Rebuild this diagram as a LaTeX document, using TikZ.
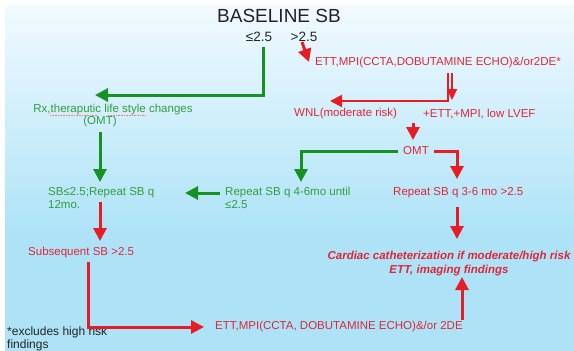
\documentclass[tikz,border=0pt]{standalone}
\usepackage{fontspec}
\setmainfont{Liberation Sans}
\usetikzlibrary{arrows.meta}
\definecolor{sbred}{RGB}{232, 28, 36}
\definecolor{sbredtext}{RGB}{224, 38, 56}
\definecolor{sbgreen}{RGB}{22, 146, 34}
\definecolor{sbgreentext}{RGB}{52, 158, 64}
\definecolor{sbsky}{RGB}{174, 227, 247}
\definecolor{sbtop}{RGB}{242, 250, 255}
\definecolor{sbink}{RGB}{35, 35, 35}

\begin{document}
\begin{tikzpicture}[x=1pt, y=-1pt,
  txt/.style={inner sep=0pt, font=\fontsize{11.5}{13}\selectfont, align=left},
  redtxt/.style={txt, text=sbredtext},
  greentxt/.style={txt, text=sbgreentext},
  redarr/.style={-{Triangle[length=13pt, width=13pt]}, sbred, line width=3pt},
  greenarr/.style={-{Triangle[length=13pt, width=13pt]}, sbgreen, line width=3pt},
  squiggle/.style={red!55, densely dotted, line width=0.6pt}]

  \useasboundingbox (0, 0) rectangle (574, 351);
  \fill[white] (0, 0) rectangle (574, 351);
  \shade[top color=sbtop, bottom color=sbsky] (5, 5) rectangle (574, 230);
  \fill[sbsky] (5, 229.5) rectangle (574, 351);

  % top of the chart
  \node[text=sbink, inner sep=0pt, font=\fontsize{19}{21}\selectfont] (baseline) at (279, 16) {BASELINE SB};
  \node[text=sbink, inner sep=0pt, font=\fontsize{13.5}{15}\selectfont] (low) at (259, 37) {≤2.5};
  \node[text=sbink, inner sep=0pt, font=\fontsize{13.5}{15}\selectfont] (high) at (304, 37) {>2.5};

  % red side
  \node[redtxt, anchor=west] (ettone) at (315, 63) {ETT,MPI(CCTA,DOBUTAMINE ECHO)\&/or2DE*};
  \node[redtxt, anchor=west] (wnl) at (294, 114) {WNL(moderate risk)};
  \node[redtxt, anchor=west] (plus) at (423, 114) {+ETT,+MPI, low LVEF};
  \node[redtxt, inner xsep=5pt] (omt) at (416, 151) {OMT};
  \node[redtxt, anchor=west] (repred) at (393, 193) {Repeat SB q 3-6 mo >2.5};
  \node[txt, text=sbredtext, align=center, font=\fontsize{11.5}{14}\selectfont\bfseries\itshape] (cath) at (449, 264)
    {Cardiac catheterization if moderate/high risk\\ETT, imaging findings};
  \node[redtxt, anchor=west] (etttwo) at (215, 327) {ETT,MPI(CCTA, DOBUTAMINE ECHO)\&/or 2DE};
  \node[redtxt, anchor=west] (subs) at (28, 253) {Subsequent SB >2.5};

  % green side
  \node[greentxt] (rx) at (113, 110) {Rx,theraputic life style changes};
  \node[greentxt] (omtg) at (100, 122) {(OMT)};
  \node[greentxt, anchor=north west] (sb) at (48, 187) {SB≤2.5;Repeat SB q\\12mo.};
  \node[greentxt, anchor=north west] (repgreen) at (225, 187) {Repeat SB q 4-6mo until\\≤2.5};

  \node[txt, text=sbink, anchor=north west, font=\fontsize{12}{13}\selectfont] (note) at (7, 327) {*excludes high risk\\findings};

  \draw[squiggle] (50, 115) -- (98, 115);
  \draw[squiggle] (108, 115) -- (145, 115);

  % connector ends
  \coordinate (lowtop) at (263, 47);
  \coordinate (rxtip) at (95, 95);
  \coordinate (hightop) at (302, 42);
  \coordinate (etttip) at (309, 62);
  \coordinate (splitl) at (448, 73);
  \coordinate (splitr) at (452, 73);
  \coordinate (wnltip) at (330, 101);
  \coordinate (plustip) at (452, 100);
  \coordinate (wnlout) at (413, 123);
  \coordinate (omttip) at (413, 140);
  \coordinate (leftdrop) at (301, 182);
  \coordinate (rightdrop) at (457, 179);
  \coordinate (repout) at (457, 207);
  \coordinate (cathtip) at (457, 239);
  \coordinate (greenout) at (220, 193);
  \coordinate (greentip) at (185, 193);
  \coordinate (rxout) at (100, 132);
  \coordinate (sbtip) at (100, 182);
  \coordinate (sbout) at (100, 202);
  \coordinate (substip) at (100, 241);
  \coordinate (subsout) at (88, 262);
  \coordinate (etttwotip) at (204, 327);
  \coordinate (etttwoout) at (462, 320);
  \coordinate (cathup) at (462, 277);

  % arrows
  \draw[greenarr] (lowtop) |- (rxtip);
  \draw[redarr] (hightop) -- (etttip);
  \draw[sbred, line width=2pt, -{Triangle[length=12pt, width=12pt]}] (splitl) |- (wnltip);
  \draw[sbred, line width=2pt, -{Triangle[length=11pt, width=10pt]}] (splitr) -- (plustip);
  \draw[redarr] (wnlout) -- (omttip);
  \draw[greenarr] (omt.west) -| (leftdrop);
  \draw[redarr] (omt.east) -| (rightdrop);
  \draw[redarr] (repout) -- (cathtip);
  \draw[greenarr] (greenout) -- (greentip);
  \draw[greenarr] (rxout) -- (sbtip);
  \draw[redarr] (sbout) -- (substip);
  \draw[redarr] (subsout) |- (etttwotip);
  \draw[redarr] (etttwoout) -- (cathup);

\end{tikzpicture}
\end{document}
